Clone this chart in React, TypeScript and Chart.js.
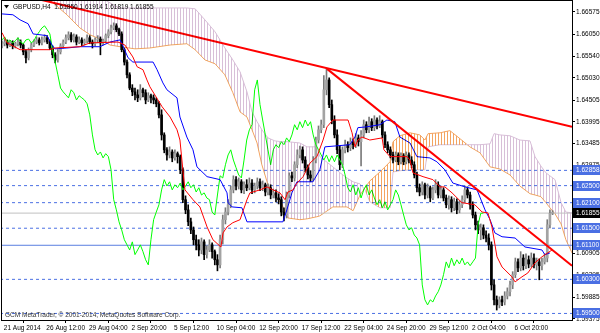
import React, { useEffect, useRef } from "react";
import { Chart, registerables } from "chart.js";

Chart.register(...registerables);

const FONT_FAMILY = '"Liberation Sans", Arial, sans-serif';
const FONT_SIZE = 6.5;

// ---- price axis ----
const priceMin = 1.59346;
const priceMax = 1.66833;
const axisTicks = [1.66575, 1.6605, 1.6554, 1.6503, 1.64505, 1.63995, 1.63485, 1.62975, 1.60905, 1.60395, 1.59885, 1.59375];

// ---- time axis ----
const barMin = 0;
const barMax = 214.3;
const dateTickBars = [0, 16, 32, 48, 64, 80, 96, 112, 128, 144, 160, 176, 192];
const dateLabels = ["21 Aug 2014", "26 Aug 12:00", "29 Aug 04:00", "2 Sep 20:00", "5 Sep 12:00", "10 Sep 04:00", "12 Sep 20:00", "17 Sep 12:00", "22 Sep 04:00", "24 Sep 20:00", "29 Sep 12:00", "2 Oct 04:00", "6 Oct 20:00"];

// ---- GBPUSD H4 candles ----
const firstOpen = 1.6578;
const closes = [
  1.6583, 1.6587, 1.6580, 1.6585, 1.6578, 1.6583, 1.6587, 1.6580, 1.6564, 1.6550,
  1.6569, 1.6580, 1.6587, 1.6592, 1.6585, 1.6592, 1.6597, 1.6587, 1.6573, 1.6557,
  1.6545, 1.6564, 1.6578, 1.6587, 1.6597, 1.6604, 1.6592, 1.6599, 1.6587, 1.6592,
  1.6585, 1.6590, 1.6597, 1.6587, 1.6583, 1.6592, 1.6594, 1.6585, 1.6590, 1.6602,
  1.6611, 1.6620, 1.6625, 1.6616, 1.6606, 1.6569, 1.6540, 1.6510, 1.6479, 1.6470,
  1.6463, 1.6456, 1.6475, 1.6468, 1.6451, 1.6461, 1.6456, 1.6451, 1.6442, 1.6416,
  1.6369, 1.6334, 1.6322, 1.6329, 1.6315, 1.6325, 1.6318, 1.6287, 1.6217, 1.6193,
  1.6165, 1.6146, 1.6123, 1.6111, 1.6099, 1.6118, 1.6088, 1.6099, 1.6111, 1.6095,
  1.6076, 1.6064, 1.6123, 1.6170, 1.6188, 1.6205, 1.6240, 1.6264, 1.6249, 1.6259,
  1.6240, 1.6252, 1.6245, 1.6256, 1.6240, 1.6249, 1.6259, 1.6245, 1.6252, 1.6235,
  1.6245, 1.6228, 1.6233, 1.6221, 1.6217, 1.6188, 1.6181, 1.6228, 1.6273, 1.6268,
  1.6299, 1.6322, 1.6334, 1.6310, 1.6292, 1.6275, 1.6268, 1.6310, 1.6357, 1.6381,
  1.6393, 1.6475, 1.6498, 1.6440, 1.6404, 1.6369, 1.6334, 1.6299, 1.6334, 1.6346,
  1.6339, 1.6353, 1.6346, 1.6362, 1.6353, 1.6369, 1.6393, 1.6381, 1.6400, 1.6386,
  1.6404, 1.6390, 1.6400, 1.6369, 1.6346, 1.6334, 1.6322, 1.6310, 1.6322, 1.6306,
  1.6320, 1.6306, 1.6322, 1.6310, 1.6299, 1.6275, 1.6245, 1.6235, 1.6252, 1.6228,
  1.6245, 1.6221, 1.6240, 1.6252, 1.6228, 1.6240, 1.6221, 1.6205, 1.6217, 1.6198,
  1.6212, 1.6193, 1.6205, 1.6217, 1.6240, 1.6228, 1.6205, 1.6181, 1.6158, 1.6146,
  1.6151, 1.6134, 1.6127, 1.6111, 1.6017, 1.5982, 1.5970, 1.5982, 1.5977, 1.5991,
  1.6001, 1.6017, 1.6041, 1.6071, 1.6057, 1.6080, 1.6062, 1.6076, 1.6066, 1.6080,
  1.6064, 1.6071, 1.6062, 1.6071, 1.6080, 1.6158, 1.6185, 1.61855,
];
const highs = [
  1.6590, 1.6594, 1.6592, 1.6590, 1.6590, 1.6587, 1.6597, 1.6592, 1.6583, 1.6569,
  1.6573, 1.6585, 1.6592, 1.6599, 1.6597, 1.6599, 1.6604, 1.6602, 1.6592, 1.6578,
  1.6562, 1.6569, 1.6583, 1.6592, 1.6604, 1.6611, 1.6609, 1.6606, 1.6604, 1.6599,
  1.6597, 1.6594, 1.6604, 1.6602, 1.6592, 1.6597, 1.6602, 1.6599, 1.6594, 1.6606,
  1.6616, 1.6627, 1.6632, 1.6630, 1.6620, 1.6611, 1.6573, 1.6545, 1.6515, 1.6487,
  1.6479, 1.6475, 1.6487, 1.6479, 1.6475, 1.6468, 1.6465, 1.6463, 1.6456, 1.6447,
  1.6428, 1.6374, 1.6339, 1.6341, 1.6334, 1.6334, 1.6329, 1.6322, 1.6292, 1.6226,
  1.6205, 1.6174, 1.6153, 1.6134, 1.6123, 1.6127, 1.6123, 1.6109, 1.6123, 1.6116,
  1.6099, 1.6088, 1.6134, 1.6181, 1.6198, 1.6217, 1.6249, 1.6273, 1.6271, 1.6268,
  1.6264, 1.6259, 1.6264, 1.6268, 1.6264, 1.6256, 1.6268, 1.6266, 1.6261, 1.6256,
  1.6254, 1.6252, 1.6242, 1.6240, 1.6231, 1.6224, 1.6198, 1.6235, 1.6280, 1.6282,
  1.6306, 1.6334, 1.6343, 1.6341, 1.6318, 1.6299, 1.6285, 1.6318, 1.6364, 1.6390,
  1.6404, 1.6508, 1.6524, 1.6503, 1.6451, 1.6414, 1.6381, 1.6343, 1.6341, 1.6357,
  1.6353, 1.6362, 1.6360, 1.6372, 1.6369, 1.6379, 1.6404, 1.6400, 1.6411, 1.6407,
  1.6414, 1.6409, 1.6414, 1.6404, 1.6376, 1.6353, 1.6341, 1.6329, 1.6329, 1.6327,
  1.6327, 1.6325, 1.6329, 1.6327, 1.6318, 1.6306, 1.6282, 1.6254, 1.6259, 1.6256,
  1.6254, 1.6249, 1.6247, 1.6264, 1.6259, 1.6249, 1.6245, 1.6228, 1.6226, 1.6224,
  1.6221, 1.6219, 1.6214, 1.6226, 1.6249, 1.6247, 1.6235, 1.6212, 1.6188, 1.6167,
  1.6160, 1.6158, 1.6144, 1.6137, 1.6118, 1.6029, 1.5991, 1.5989, 1.5991, 1.6001,
  1.6010, 1.6026, 1.6048, 1.6080, 1.6078, 1.6095, 1.6088, 1.6090, 1.6085, 1.6092,
  1.6090, 1.6080, 1.6078, 1.6080, 1.6090, 1.6170, 1.6193, 1.61914,
];
const lows = [
  1.6573, 1.6578, 1.6573, 1.6576, 1.6571, 1.6573, 1.6578, 1.6573, 1.6557, 1.6538,
  1.6545, 1.6564, 1.6576, 1.6583, 1.6580, 1.6580, 1.6587, 1.6583, 1.6569, 1.6550,
  1.6538, 1.6540, 1.6559, 1.6573, 1.6583, 1.6592, 1.6587, 1.6587, 1.6580, 1.6583,
  1.6578, 1.6580, 1.6585, 1.6583, 1.6573, 1.6578, 1.6585, 1.6557, 1.6580, 1.6585,
  1.6597, 1.6606, 1.6616, 1.6611, 1.6602, 1.6564, 1.6533, 1.6503, 1.6475, 1.6461,
  1.6451, 1.6447, 1.6451, 1.6458, 1.6442, 1.6447, 1.6444, 1.6442, 1.6435, 1.6409,
  1.6357, 1.6327, 1.6310, 1.6315, 1.6306, 1.6310, 1.6303, 1.6278, 1.6210, 1.6184,
  1.6156, 1.6137, 1.6111, 1.6099, 1.6085, 1.6090, 1.6076, 1.6080, 1.6095, 1.6080,
  1.6064, 1.6050, 1.6057, 1.6113, 1.6160, 1.6181, 1.6198, 1.6233, 1.6240, 1.6242,
  1.6233, 1.6231, 1.6238, 1.6240, 1.6231, 1.6233, 1.6242, 1.6238, 1.6238, 1.6226,
  1.6228, 1.6219, 1.6221, 1.6212, 1.6207, 1.6179, 1.6167, 1.6174, 1.6221, 1.6259,
  1.6261, 1.6292, 1.6315, 1.6303, 1.6282, 1.6266, 1.6259, 1.6261, 1.6303, 1.6350,
  1.6374, 1.6386, 1.6463, 1.6433, 1.6395, 1.6362, 1.6325, 1.6287, 1.6292, 1.6327,
  1.6329, 1.6332, 1.6336, 1.6339, 1.6343, 1.6296, 1.6362, 1.6374, 1.6374, 1.6379,
  1.6379, 1.6383, 1.6386, 1.6362, 1.6339, 1.6327, 1.6315, 1.6303, 1.6306, 1.6299,
  1.6301, 1.6299, 1.6301, 1.6303, 1.6292, 1.6268, 1.6235, 1.6226, 1.6228, 1.6219,
  1.6221, 1.6212, 1.6217, 1.6233, 1.6221, 1.6221, 1.6214, 1.6198, 1.6195, 1.6188,
  1.6191, 1.6184, 1.6186, 1.6198, 1.6210, 1.6221, 1.6195, 1.6174, 1.6146, 1.6137,
  1.6123, 1.6125, 1.6118, 1.6099, 1.6005, 1.5970, 1.5958, 1.5963, 1.5968, 1.5970,
  1.5984, 1.5991, 1.6008, 1.6034, 1.6048, 1.6050, 1.6052, 1.6055, 1.6057, 1.6059,
  1.6057, 1.6052, 1.6029, 1.6052, 1.6066, 1.6071, 1.6151, 1.61819,
];

// ---- Ichimoku ----
const chikouShift = 26;
const tenkanBars = [0, 1.9, 6.8, 18.0, 19.9, 29.3, 33.1, 43.6, 46.2, 49.2, 50.8, 53.0, 54.5, 55.6, 60.2, 63.2, 65.8, 66.9, 68.0, 68.8, 71.8, 74.4, 77.1, 79.3, 82.3, 83.1, 84.6, 86.8, 89.5, 92.1, 93.2, 97.0, 99.6, 101.9, 104.5, 106.4, 107.5, 109.4, 110.9, 113.2, 115.8, 118.4, 120.7, 122.2, 124.4, 130.1, 131.6, 132.7, 133.8, 135.3, 138.3, 142.9, 143.6, 145.9, 152.3, 153.4, 154.5, 158.3, 162.0, 164.7, 166.5, 169.2, 172.9, 177.8, 180.5, 182.7, 184.2, 186.1, 188.0, 191.7, 192.9, 195.5, 197.7, 200.4, 203.0, 206.8];
const tenkanValues = [1.6609, 1.6585, 1.6569, 1.6569, 1.6573, 1.6576, 1.6585, 1.6587, 1.6580, 1.6552, 1.6529, 1.6522, 1.6498, 1.6482, 1.6435, 1.6411, 1.6381, 1.6357, 1.6287, 1.6240, 1.6217, 1.6200, 1.6153, 1.6123, 1.6106, 1.6139, 1.6153, 1.6163, 1.6170, 1.6217, 1.6233, 1.6240, 1.6247, 1.6240, 1.6233, 1.6217, 1.6235, 1.6240, 1.6256, 1.6271, 1.6303, 1.6318, 1.6357, 1.6388, 1.6404, 1.6404, 1.6374, 1.6341, 1.6357, 1.6364, 1.6357, 1.6362, 1.6334, 1.6318, 1.6318, 1.6310, 1.6280, 1.6271, 1.6264, 1.6247, 1.6247, 1.6233, 1.6210, 1.6205, 1.6188, 1.6186, 1.6153, 1.6083, 1.6059, 1.6036, 1.6024, 1.6036, 1.6045, 1.6069, 1.6083, 1.6099];
const kijunBars = [0, 4.1, 6.8, 9.8, 11.7, 16.9, 18.8, 19.9, 24.4, 29.3, 36.8, 40.6, 44.4, 45.1, 47.4, 49.2, 56.8, 58.3, 60.5, 62.0, 65.8, 66.9, 69.5, 71.8, 73.3, 77.1, 82.0, 84.6, 85.0, 86.5, 90.2, 92.1, 105.6, 107.1, 109.0, 110.9, 116.9, 119.5, 121.4, 130.8, 132.7, 133.8, 137.2, 142.1, 144.7, 147.7, 149.6, 153.4, 156.0, 160.9, 163.5, 166.5, 169.5, 174.1, 178.6, 181.6, 183.5, 185.3, 188.0, 192.9, 196.6, 203.0, 204.1, 206.0];
const kijunValues = [1.6653, 1.6651, 1.6639, 1.6630, 1.6606, 1.6602, 1.6580, 1.6571, 1.6573, 1.6576, 1.6576, 1.6587, 1.6592, 1.6583, 1.6550, 1.6540, 1.6540, 1.6522, 1.6491, 1.6475, 1.6456, 1.6411, 1.6364, 1.6334, 1.6294, 1.6271, 1.6264, 1.6233, 1.6210, 1.6200, 1.6198, 1.6165, 1.6165, 1.6193, 1.6233, 1.6259, 1.6259, 1.6287, 1.6341, 1.6346, 1.6364, 1.6386, 1.6388, 1.6393, 1.6404, 1.6400, 1.6364, 1.6350, 1.6318, 1.6315, 1.6306, 1.6287, 1.6256, 1.6247, 1.6240, 1.6193, 1.6170, 1.6139, 1.6130, 1.6127, 1.6106, 1.6099, 1.6088, 1.6092];
const cloudBars = [-0.8, 6.8, 14.3, 19.2, 24.4, 29.3, 33.1, 36.8, 40.6, 42.5, 44.4, 50.0, 55.6, 63.2, 69.5, 72.6, 76.3, 80.1, 83.8, 86.8, 89.5, 92.1, 94.0, 95.9, 97.7, 100.0, 102.6, 105.3, 107.5, 112.0, 114.7, 118.4, 119.5, 124.4, 127.1, 129.7, 132.0, 134.6, 136.5, 138.3, 142.1, 145.9, 147.0, 149.6, 153.4, 157.1, 159.0, 160.2, 164.7, 168.4, 172.2, 175.9, 179.7, 183.5, 185.0, 187.2, 191.0, 194.7, 198.5, 200.4, 202.6, 204.5, 206.0, 207.9, 210.2, 212.0, 214.3, 217.3];
const spanA = [1.6733, 1.6714, 1.6700, 1.6679, 1.6651, 1.6620, 1.6604, 1.6594, 1.6580, 1.6578, 1.6576, 1.6571, 1.6573, 1.6580, 1.6583, 1.6569, 1.6545, 1.6536, 1.6510, 1.6468, 1.6423, 1.6411, 1.6381, 1.6350, 1.6299, 1.6252, 1.6228, 1.6205, 1.6174, 1.6170, 1.6172, 1.6177, 1.6179, 1.6200, 1.6200, 1.6200, 1.6191, 1.6228, 1.6245, 1.6261, 1.6282, 1.6306, 1.6353, 1.6367, 1.6374, 1.6369, 1.6357, 1.6372, 1.6374, 1.6379, 1.6360, 1.6341, 1.6327, 1.6294, 1.6292, 1.6289, 1.6275, 1.6249, 1.6231, 1.6228, 1.6224, 1.6210, 1.6198, 1.6184, 1.6160, 1.6123, 1.6092, 1.6085];
const spanB = [1.6780, 1.6761, 1.6738, 1.6721, 1.6709, 1.6700, 1.6695, 1.6693, 1.6679, 1.6672, 1.6667, 1.6667, 1.6667, 1.6667, 1.6667, 1.6665, 1.6639, 1.6611, 1.6573, 1.6545, 1.6517, 1.6470, 1.6423, 1.6400, 1.6381, 1.6362, 1.6355, 1.6353, 1.6353, 1.6350, 1.6341, 1.6341, 1.6318, 1.6294, 1.6280, 1.6268, 1.6259, 1.6254, 1.6240, 1.6212, 1.6198, 1.6198, 1.6282, 1.6285, 1.6287, 1.6287, 1.6287, 1.6341, 1.6346, 1.6346, 1.6346, 1.6346, 1.6346, 1.6348, 1.6372, 1.6369, 1.6367, 1.6357, 1.6355, 1.6318, 1.6296, 1.6280, 1.6273, 1.6264, 1.6210, 1.6188, 1.6186, 1.6186];
// where span A crosses above span B and back again (bar, price)
const crossBars = [135.7, 175.0];
const crossValues = [1.624, 1.6346];

// ---- drawn objects ----
const trend1Bars = [10, 214.3];
const trend1Values = [1.6693, 1.6388];
const trend2Bars = [122.2, 214.3];
const trend2Values = [1.6524, 1.6062];
const dottedLevels = [1.62858, 1.625, 1.621, 1.615, 1.603, 1.595];
const supportLevel = 1.611;
const lastPrice = 1.61855;
const titleText = "GBPUSD,H4  1.61850 1.61914 1.61819 1.61855";
const copyrightText = "GCM MetaTrader, \u00A9 2001-2014, MetaQuotes Software Corp.";

const LEVEL_BLUE = "#4a6fe3";

function makeHatch(color: string): CanvasPattern | string {
  const c = document.createElement("canvas");
  c.width = 3;
  c.height = 1;
  const g = c.getContext("2d");
  if (!g) return color;
  g.fillStyle = color;
  g.fillRect(0, 0, 1, 1);
  return g.createPattern(c, "repeat") || color;
}

// Ichimoku cloud hatch, painted with the chart's own scales.
function makeCloudPlugin(thistle: any, sandy: any) {
  const paint = (chart: any, pass: "under" | "darken") => {
    const { ctx, chartArea: a, scales } = chart;
    const xs = scales.x;
    const ys = scales.y;
    const band = (bars: number[], upper: number[], lower: number[], style: any) => {
      ctx.beginPath();
      bars.forEach((b, i) => {
        const px = xs.getPixelForValue(b);
        const py = ys.getPixelForValue(upper[i]);
        if (i === 0) ctx.moveTo(px, py);
        else ctx.lineTo(px, py);
      });
      for (let i = bars.length - 1; i >= 0; i--) {
        ctx.lineTo(xs.getPixelForValue(bars[i]), ys.getPixelForValue(lower[i]));
      }
      ctx.closePath();
      ctx.fillStyle = style;
      ctx.fill("nonzero");
    };
    const inside = cloudBars.map((_, i) => i).filter((i) => cloudBars[i] > crossBars[0] && cloudBars[i] < crossBars[1]);
    const sb = [crossBars[0], ...inside.map((i) => cloudBars[i]), crossBars[1]];
    const su = [crossValues[0], ...inside.map((i) => spanA[i]), crossValues[1]];
    const sl = [crossValues[0], ...inside.map((i) => spanB[i]), crossValues[1]];
    const xc0 = xs.getPixelForValue(crossBars[0]);
    const xc1 = xs.getPixelForValue(crossBars[1]);

    ctx.save();
    ctx.beginPath();
    ctx.rect(a.left, a.top, a.right - a.left, a.bottom - a.top);
    ctx.clip();
    if (pass === "under") {
      band(cloudBars, spanB, spanA, thistle);
      band(sb, su, sl, sandy);
    } else {
      // darken keeps dark marks (candles, lines) and only tints the light background
      ctx.globalCompositeOperation = "darken";
      ctx.save();
      ctx.beginPath();
      ctx.rect(a.left, a.top, xc0 - a.left, a.bottom - a.top);
      ctx.rect(xc1, a.top, a.right - xc1, a.bottom - a.top);
      ctx.clip();
      band(cloudBars, spanB, spanA, thistle);
      ctx.restore();
      band(sb, su, sl, sandy);
    }
    ctx.restore();
  };
  return {
    id: "ichimokuCloud",
    beforeDatasetsDraw(chart: any) {
      paint(chart, "under");
    },
    afterDraw(chart: any) {
      paint(chart, "darken");
    },
  };
}

const overlayPlugin = {
  id: "mtOverlay",
  afterDraw(chart: any) {
    const { ctx, chartArea: a, scales } = chart;
    const ys = scales.y;
    ctx.save();
    ctx.strokeStyle = "#000";
    ctx.lineWidth = 1;
    ctx.strokeRect(a.left - 0.5, a.top - 0.5, a.right - a.left + 1, a.bottom - a.top + 1);

    ctx.font = `${FONT_SIZE}px ${FONT_FAMILY}`;
    ctx.textBaseline = "middle";
    ctx.textAlign = "left";
    const box = (v: number, bg: string) => {
      const py = Math.round(ys.getPixelForValue(v));
      ctx.fillStyle = bg;
      ctx.fillRect(a.right + 1, py - 5, chart.width - a.right - 1, 10);
      ctx.fillStyle = "#fff";
      ctx.fillText(v.toFixed(5), a.right + 4, py + 0.5);
    };
    dottedLevels.forEach((v) => box(v, LEVEL_BLUE));
    box(supportLevel, LEVEL_BLUE);
    box(lastPrice, "#000");

    ctx.fillStyle = "#000";
    ctx.beginPath();
    ctx.moveTo(a.left + 2, a.top + 4);
    ctx.lineTo(a.left + 7, a.top + 4);
    ctx.lineTo(a.left + 4.5, a.top + 7.5);
    ctx.closePath();
    ctx.fill();
    ctx.fillText(titleText, a.left + 11, a.top + 6);

    ctx.fillStyle = "#333";
    ctx.fillText(copyrightText, a.left + 3, a.bottom - 5);
    ctx.restore();
  },
};

export default function App() {
  const canvasRef = useRef<HTMLCanvasElement | null>(null);

  useEffect(() => {
    document.body.style.margin = "0";
    const canvas = canvasRef.current;
    if (!canvas) return;

    const opens = closes.map((c, i) => (i === 0 ? firstOpen : closes[i - 1]));
    const idx = closes.map((_, i) => i);
    const bull = idx.map((i) => closes[i] >= opens[i]);
    const wickData = idx.map((i) => ({ x: i, y: [lows[i], highs[i]] }));
    const bodyData = idx.map((i) => ({ x: i, y: [opens[i], closes[i]] }));
    const chikouData = idx.filter((i) => i >= chikouShift).map((i) => ({ x: i - chikouShift, y: closes[i] }));
    const pts = (xs: number[], vs: number[]) => xs.map((x, i) => ({ x, y: vs[i] }));
    const hline = (v: number) => [{ x: barMin - 3, y: v }, { x: barMax + 3, y: v }];

    const cloudPlugin = makeCloudPlugin(makeHatch("#d8bfd8"), makeHatch("#f4a460"));

    const lineBase = { type: "line" as const, pointRadius: 0, borderWidth: 1, tension: 0, fill: false };

    const datasets: any[] = [
      { ...lineBase, label: "Senkou A", data: pts(cloudBars, spanA), borderColor: "#f4a460", order: 22 },
      { ...lineBase, label: "Senkou B", data: pts(cloudBars, spanB), borderColor: "#d8bfd8", order: 21 },
      ...dottedLevels.map((v) => ({ ...lineBase, label: "L" + v, data: hline(v), borderColor: LEVEL_BLUE, borderDash: [3, 3], order: 15 })),
      { ...lineBase, label: "support", data: hline(supportLevel), borderColor: "#5a7ee0", order: 15 },
      { ...lineBase, label: "price", data: hline(lastPrice), borderColor: "#c0c0c0", order: 15 },
      { type: "bar", label: "wick", data: wickData, backgroundColor: bull.map((b) => (b ? "#7a7a7a" : "#000")), barThickness: 1, grouped: false, borderWidth: 0, order: 10 },
      { type: "bar", label: "body", data: bodyData, backgroundColor: bull.map((b) => (b ? "#a3a3a3" : "#000")), barThickness: 2, minBarLength: 1, grouped: false, borderWidth: 0, order: 9 },
      { ...lineBase, label: "Chikou", data: chikouData, borderColor: "#00ff00", order: 5 },
      { ...lineBase, label: "Kijun", data: pts(kijunBars, kijunValues), borderColor: "#0000ff", order: 4 },
      { ...lineBase, label: "Tenkan", data: pts(tenkanBars, tenkanValues), borderColor: "#ff0000", order: 3 },
      { ...lineBase, label: "trend1", data: pts(trend1Bars, trend1Values), borderColor: "#ff0000", borderWidth: 2, order: 1 },
      { ...lineBase, label: "trend2", data: pts(trend2Bars, trend2Values), borderColor: "#ff0000", borderWidth: 2, order: 1 },
    ];

    const font = { family: FONT_FAMILY, size: FONT_SIZE };

    const chart = new Chart(canvas, {
      type: "line",
      data: { datasets },
      plugins: [cloudPlugin, overlayPlugin],
      options: {
        responsive: false,
        animation: false,
        devicePixelRatio: 1,
        events: [],
        layout: { padding: { left: 2, top: 1, right: 0, bottom: 0 } },
        elements: { point: { radius: 0 } },
        plugins: { legend: { display: false }, tooltip: { enabled: false }, title: { display: false } },
        scales: {
          x: {
            type: "linear",
            position: "bottom",
            min: barMin,
            max: barMax,
            offset: false,
            grid: { display: true, drawOnChartArea: false, drawTicks: true, tickLength: 3, color: "#000", tickColor: "#000" },
            border: { display: true, color: "#000" },
            ticks: {
              align: "start",
              autoSkip: false,
              maxRotation: 0,
              minRotation: 0,
              padding: 1,
              color: "#000",
              font,
              callback: (v: any) => {
                const k = dateTickBars.indexOf(Number(v));
                return k >= 0 ? " " + dateLabels[k] : "";
              },
            },
            afterBuildTicks: (s: any) => {
              s.ticks = dateTickBars.map((v) => ({ value: v }));
            },
            afterFit: (s: any) => {
              s.height = 13;
              s.paddingLeft = 0;
              s.paddingRight = 0;
            },
          },
          y: {
            type: "linear",
            position: "right",
            min: priceMin,
            max: priceMax,
            grid: { display: true, drawOnChartArea: false, drawTicks: true, tickLength: 3, color: "#000", tickColor: "#000" },
            border: { display: true, color: "#000" },
            ticks: {
              padding: 1,
              color: "#000",
              font,
              callback: (v: any) => Number(v).toFixed(5),
            },
            afterBuildTicks: (s: any) => {
              s.ticks = axisTicks.map((v) => ({ value: v }));
            },
            afterFit: (s: any) => {
              s.width = 28;
              s.paddingTop = 0;
              s.paddingBottom = 0;
            },
          },
        },
      } as any,
    });

    return () => chart.destroy();
  }, []);

  return (
    <div style={{ position: "fixed", left: 0, top: 0, width: 600, height: 333, background: "#fff" }}>
      <canvas ref={canvasRef} width={600} height={333} style={{ width: 600, height: 333, display: "block" }} />
    </div>
  );
}
